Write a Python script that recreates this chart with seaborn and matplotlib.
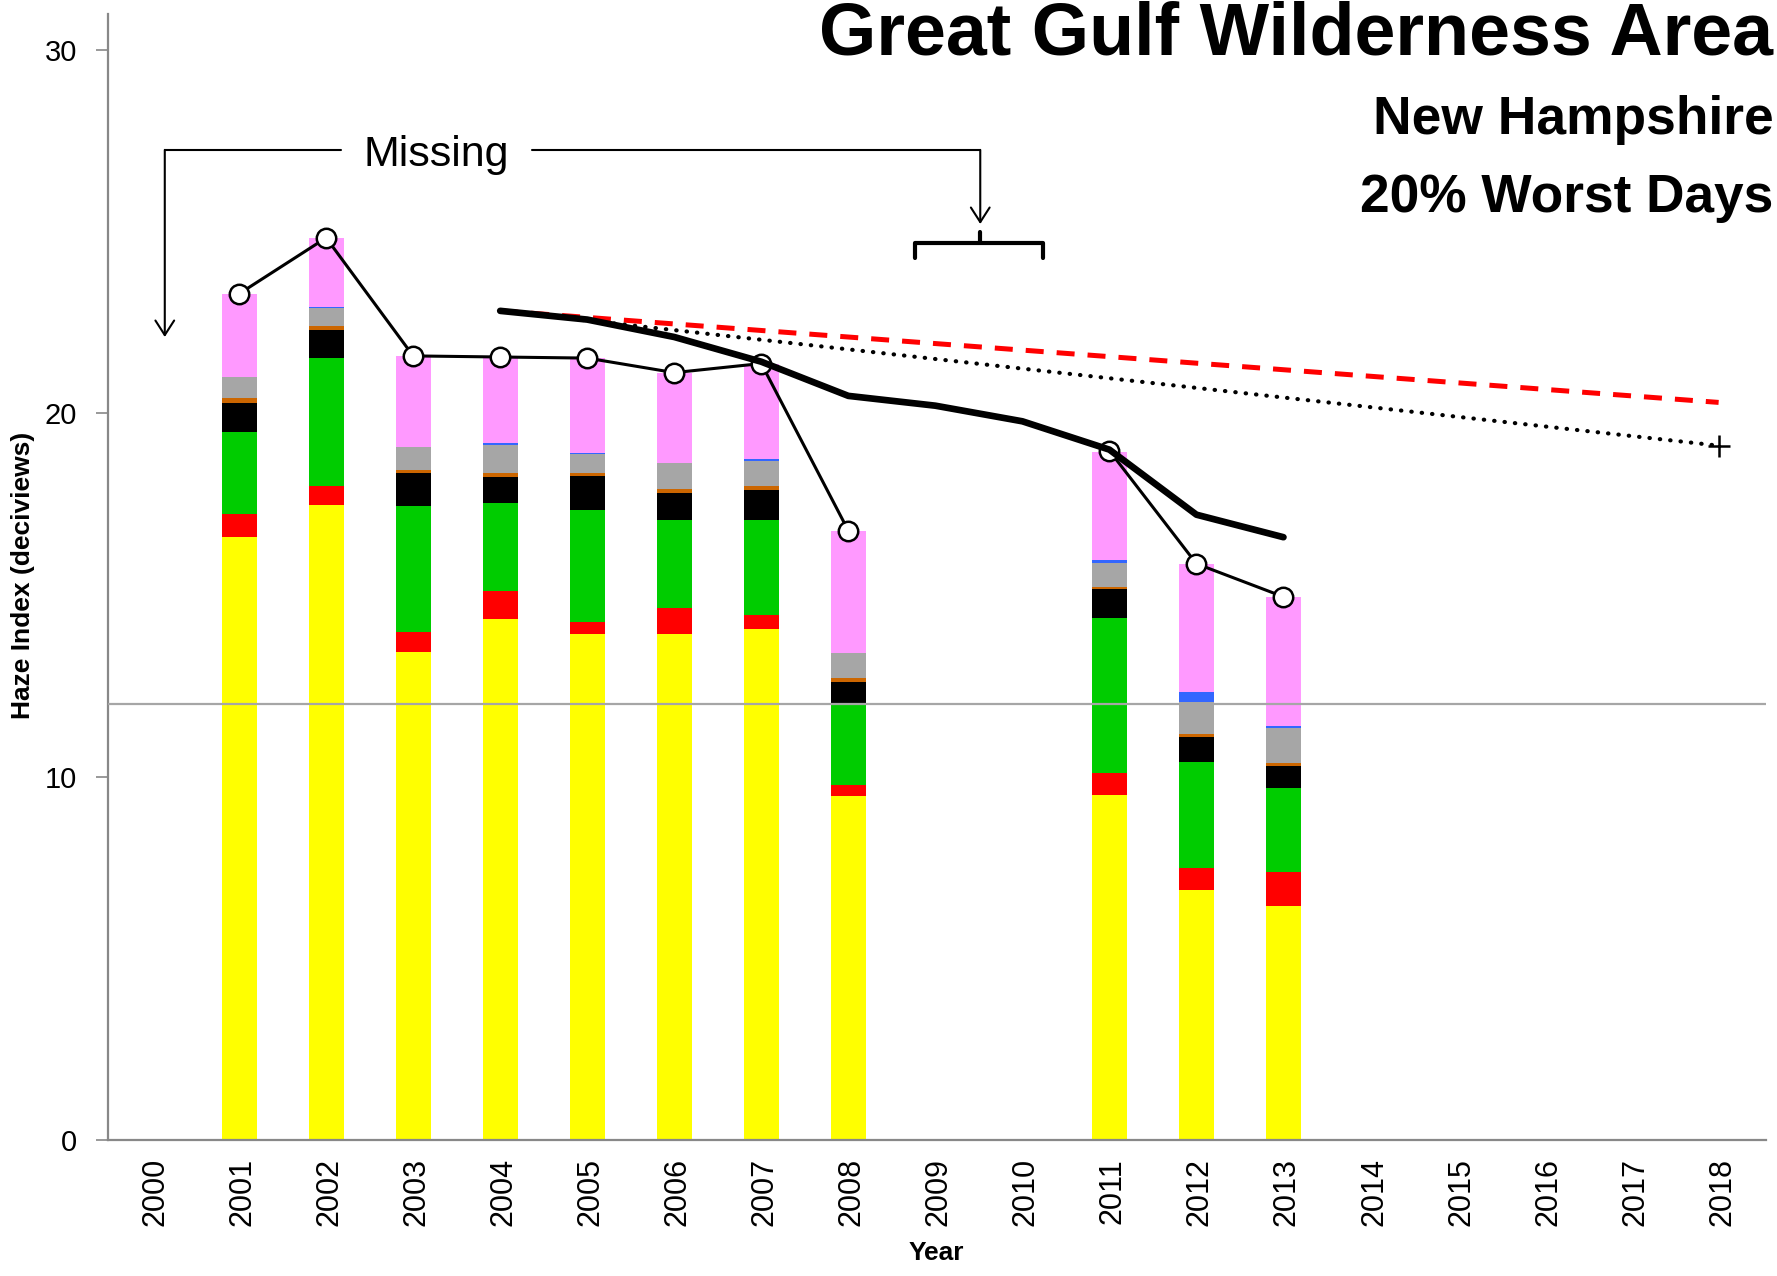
import numpy as np
import pandas as pd
import matplotlib
matplotlib.use("Agg")
import matplotlib.pyplot as plt
import matplotlib.transforms as mtransforms
import seaborn as sns

# =====================================================
# DATA
# =====================================================

all_years = [str(y) for y in range(2000, 2019)]
bar_years = ["2001", "2002", "2003", "2004", "2005", "2006", "2007", "2008", "2011", "2012", "2013"]

# haze components (deciviews), bottom to top
sulfate   = [16.60, 17.49, 13.43, 14.33, 13.92, 13.92, 14.05, 9.47, 9.50, 6.89, 6.43]
nitrate   = [0.63, 0.51, 0.56, 0.78, 0.34, 0.73, 0.40, 0.29, 0.59, 0.60, 0.94]
organic   = [2.26, 3.53, 3.45, 2.42, 3.09, 2.40, 2.62, 2.23, 4.29, 2.90, 2.32]
elemental = [0.80, 0.75, 0.91, 0.73, 0.93, 0.77, 0.81, 0.61, 0.79, 0.71, 0.60]
soil      = [0.12, 0.13, 0.09, 0.11, 0.07, 0.11, 0.11, 0.11, 0.04, 0.08, 0.08]
coarse    = [0.58, 0.48, 0.64, 0.75, 0.53, 0.70, 0.69, 0.68, 0.68, 0.87, 0.96]
sea_salt  = [0.00, 0.03, 0.00, 0.05, 0.03, 0.00, 0.05, 0.00, 0.06, 0.29, 0.07]
rayleigh  = [2.30, 1.91, 2.50, 2.36, 2.61, 2.49, 2.64, 3.38, 2.99, 3.52, 3.55]

component_colors = ["#FFFF00", "#FF0000", "#00CC00", "#000000",
                    "#CC6600", "#A6A6A6", "#3366FF", "#FF99FF"]

# annual haze index (open circles), broken where years are missing
haze_years = ["2001", "2002", "2003", "2004", "2005", "2006", "2007", "2008", "2011", "2012", "2013"]
haze_index = [23.29, 24.83, 21.58, 21.55, 21.52, 21.12, 21.37, 16.77, 18.97, 15.86, 14.95]
haze_segment = [1, 1, 1, 1, 1, 1, 1, 1, 2, 2, 2]

# 5-year average
avg_years = ["2004", "2005", "2006", "2007", "2008", "2009", "2010", "2011", "2012", "2013"]
avg_index = [22.82, 22.58, 22.10, 21.42, 20.48, 20.21, 19.78, 19.00, 17.21, 16.59]

# glide paths 2004 -> 2018
goal_years = ["2004", "2018"]
rpg_index = [22.82, 20.30]
urp_index = [22.82, 19.11]

natural_level = 12.0

# =====================================================
# FIGURE
# =====================================================

sns.set_style("white")
plt.rcParams["font.family"] = ["Liberation Sans", "DejaVu Sans"]
plt.rcParams["text.color"] = "black"
plt.rcParams["axes.labelcolor"] = "black"
plt.rcParams["xtick.color"] = "black"
plt.rcParams["ytick.color"] = "black"

fig = plt.figure(figsize=(17.77, 12.76), dpi=100)
ax = fig.add_axes([0.0606, 0.1066, 0.933, 0.8827])

pos = {y: i for i, y in enumerate(all_years)}

# stacked bars: draw cumulative heights from top layer down
layers = [sulfate, nitrate, organic, elemental, soil, coarse, sea_salt, rayleigh]
cum = np.cumsum(np.array(layers), axis=0)

for k in range(len(layers) - 1, -1, -1):
    df = pd.DataFrame({"Year": bar_years, "Value": cum[k]})
    sns.barplot(
        data=df, x="Year", y="Value", order=all_years,
        color=component_colors[k], saturation=1, width=0.4,
        linewidth=0, errorbar=None, ax=ax, zorder=2
    )

# natural conditions
ax.axhline(natural_level, color="#A6A6A6", lw=1.6, zorder=3)

# annual haze index
haze_df = pd.DataFrame({
    "x": [pos[y] for y in haze_years],
    "y": haze_index,
    "seg": haze_segment
})
sns.lineplot(
    data=haze_df, x="x", y="y", units="seg", estimator=None,
    color="black", lw=2.2, marker="o", markersize=14,
    markerfacecolor="white", markeredgecolor="black", markeredgewidth=1.8,
    ax=ax, zorder=4, legend=False
)

# glide paths
goal_x = [pos[y] for y in goal_years]
ax.plot(goal_x, rpg_index, color="#FF0000", lw=3.6,
        linestyle=(0, (3.6, 2.6)), zorder=5)
ax.plot(goal_x, urp_index, color="black", lw=3.0,
        linestyle=(0, (0.1, 2.4)), dash_capstyle="round", zorder=5)
ax.plot(goal_x[-1], urp_index[-1], marker="+", color="black",
        markersize=16, markeredgewidth=1.8, zorder=6)

# 5-year average
ax.plot([pos[y] for y in avg_years], avg_index, color="black",
        lw=4.8, solid_joinstyle="round", solid_capstyle="round", zorder=6)

# "Missing" annotation
ann_kw = dict(color="black", lw=1.5, zorder=7)
ax.plot([2.17, 0.146], [27.25, 27.25], **ann_kw)
ax.plot([4.37, 9.516], [27.25, 27.25], **ann_kw)
arrow = dict(arrowstyle="->,head_length=0.7,head_width=0.45",
             color="black", lw=1.5, mutation_scale=15, shrinkA=0, shrinkB=0)
ax.annotate("", xy=(0.146, 22.1), xytext=(0.146, 27.25), arrowprops=arrow)
ax.annotate("", xy=(9.516, 25.21), xytext=(9.516, 27.25), arrowprops=arrow)
ax.text(3.27, 27.12, "Missing", fontsize=31, ha="center", va="center")

# brace over 2009-2010
ax.plot([8.77, 8.77, 10.24, 10.24], [24.28, 24.70, 24.70, 24.28],
        color="black", lw=3, solid_joinstyle="round", zorder=7)
ax.plot([9.516, 9.516], [24.70, 25.0], color="black", lw=3, zorder=7)

# =====================================================
# AXES STYLE
# =====================================================

ax.set_xlim(-0.51, 18.54)
ax.set_ylim(0, 31)
ax.set_yticks([0, 10, 20, 30])
ax.set_xticks(range(len(all_years)))
ax.set_xticklabels(all_years, rotation=90)
ax.tick_params(axis="y", length=9, width=1.2, color="#888888",
               labelcolor="black", labelsize=21, pad=13, left=True)
ax.tick_params(axis="x", length=0, labelcolor="black", labelsize=22, pad=13)
ax.set_xlabel("")
ax.set_ylabel("")

# nudge rotated year labels so the digits sit centred under the bars
shift = mtransforms.ScaledTranslation(3.5 / 100, 0, fig.dpi_scale_trans)
for lab in ax.get_xticklabels():
    lab.set_transform(lab.get_transform() + shift)

for side in ["top", "right"]:
    ax.spines[side].set_visible(False)
for side in ["left", "bottom"]:
    ax.spines[side].set_color("#888888")
    ax.spines[side].set_linewidth(1.6)

fig.text(0.0128, 0.549, "Haze Index (deciviews)", rotation=90,
         fontsize=19, fontweight="bold", ha="center", va="center")
fig.text(0.527, 0.0177, "Year", fontsize=19, fontweight="bold",
         ha="center", va="center")

fig.text(0.998, 0.957, "Great Gulf Wilderness Area", fontsize=53,
         fontweight="bold", ha="right", va="baseline")
fig.text(0.998, 0.895, "New Hampshire", fontsize=38.4,
         fontweight="bold", ha="right", va="baseline")
fig.text(0.998, 0.834, "20% Worst Days", fontsize=38.3,
         fontweight="bold", ha="right", va="baseline")

fig.savefig("out.png", dpi=100)
